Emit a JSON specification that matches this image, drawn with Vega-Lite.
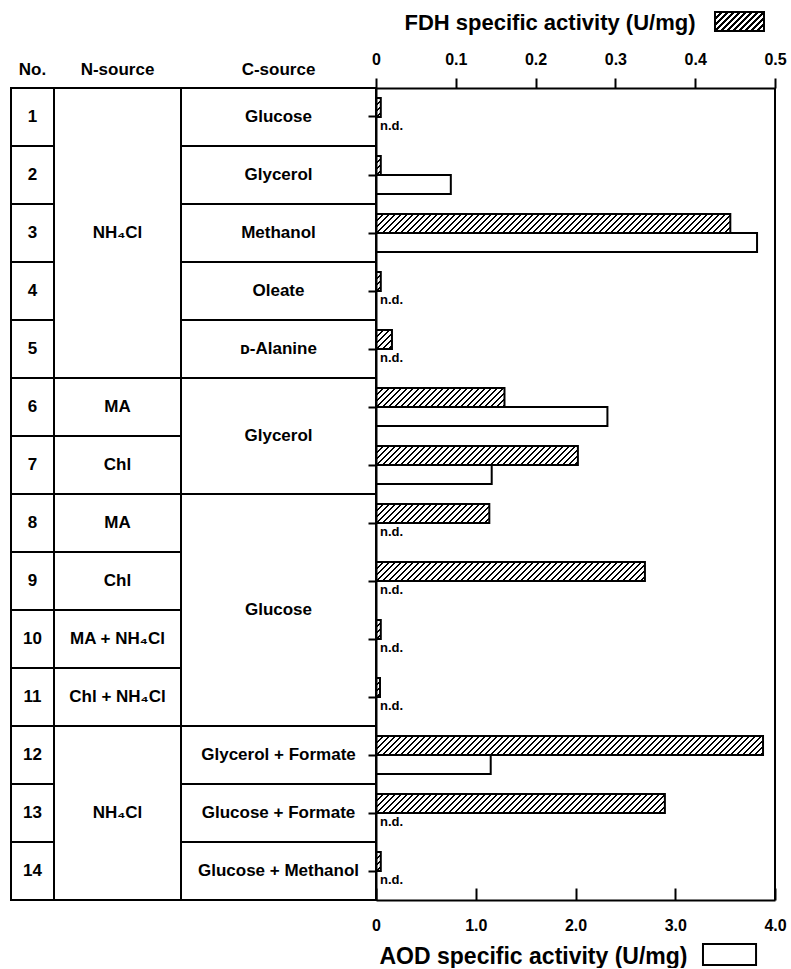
{
  "$schema": "https://vega.github.io/schema/vega-lite/v6.json",
  "background": "white",
  "padding": {"left": 9, "top": 11, "right": 5, "bottom": 0},
  "spacing": 0,
  "bounds": "flush",
  "config": {
    "font": "Liberation Sans",
    "view": {"stroke": "black", "strokeWidth": 2}
  },
  "datasets": {
    "table": [
      {"column": "No", "first": 1, "last": 1, "text": "1"},
      {"column": "No", "first": 2, "last": 2, "text": "2"},
      {"column": "No", "first": 3, "last": 3, "text": "3"},
      {"column": "No", "first": 4, "last": 4, "text": "4"},
      {"column": "No", "first": 5, "last": 5, "text": "5"},
      {"column": "No", "first": 6, "last": 6, "text": "6"},
      {"column": "No", "first": 7, "last": 7, "text": "7"},
      {"column": "No", "first": 8, "last": 8, "text": "8"},
      {"column": "No", "first": 9, "last": 9, "text": "9"},
      {"column": "No", "first": 10, "last": 10, "text": "10"},
      {"column": "No", "first": 11, "last": 11, "text": "11"},
      {"column": "No", "first": 12, "last": 12, "text": "12"},
      {"column": "No", "first": 13, "last": 13, "text": "13"},
      {"column": "No", "first": 14, "last": 14, "text": "14"},
      {"column": "N", "first": 1, "last": 5, "text": "NH₄Cl"},
      {"column": "N", "first": 6, "last": 6, "text": "MA"},
      {"column": "N", "first": 7, "last": 7, "text": "Chl"},
      {"column": "N", "first": 8, "last": 8, "text": "MA"},
      {"column": "N", "first": 9, "last": 9, "text": "Chl"},
      {"column": "N", "first": 10, "last": 10, "text": "MA + NH₄Cl"},
      {"column": "N", "first": 11, "last": 11, "text": "Chl + NH₄Cl"},
      {"column": "N", "first": 12, "last": 14, "text": "NH₄Cl"},
      {"column": "C", "first": 1, "last": 1, "text": "Glucose"},
      {"column": "C", "first": 2, "last": 2, "text": "Glycerol"},
      {"column": "C", "first": 3, "last": 3, "text": "Methanol"},
      {"column": "C", "first": 4, "last": 4, "text": "Oleate"},
      {"column": "C", "first": 5, "last": 5, "text": "ᴅ-Alanine"},
      {"column": "C", "first": 6, "last": 7, "text": "Glycerol"},
      {"column": "C", "first": 8, "last": 11, "text": "Glucose"},
      {"column": "C", "first": 12, "last": 12, "text": "Glycerol + Formate"},
      {"column": "C", "first": 13, "last": 13, "text": "Glucose + Formate"},
      {"column": "C", "first": 14, "last": 14, "text": "Glucose + Methanol"}
    ],
    "activity": [
      {"No": 1, "series": "FDH", "activity": 0.006},
      {"No": 2, "series": "FDH", "activity": 0.006},
      {"No": 3, "series": "FDH", "activity": 0.444},
      {"No": 4, "series": "FDH", "activity": 0.006},
      {"No": 5, "series": "FDH", "activity": 0.020},
      {"No": 6, "series": "FDH", "activity": 0.161},
      {"No": 7, "series": "FDH", "activity": 0.253},
      {"No": 8, "series": "FDH", "activity": 0.142},
      {"No": 9, "series": "FDH", "activity": 0.337},
      {"No": 10, "series": "FDH", "activity": 0.006},
      {"No": 11, "series": "FDH", "activity": 0.005},
      {"No": 12, "series": "FDH", "activity": 0.485},
      {"No": 13, "series": "FDH", "activity": 0.362},
      {"No": 14, "series": "FDH", "activity": 0.006},
      {"No": 1, "series": "AOD", "activity": null},
      {"No": 2, "series": "AOD", "activity": 0.75},
      {"No": 3, "series": "AOD", "activity": 3.82},
      {"No": 4, "series": "AOD", "activity": null},
      {"No": 5, "series": "AOD", "activity": null},
      {"No": 6, "series": "AOD", "activity": 2.32},
      {"No": 7, "series": "AOD", "activity": 1.16},
      {"No": 8, "series": "AOD", "activity": null},
      {"No": 9, "series": "AOD", "activity": null},
      {"No": 10, "series": "AOD", "activity": null},
      {"No": 11, "series": "AOD", "activity": null},
      {"No": 12, "series": "AOD", "activity": 1.15},
      {"No": 13, "series": "AOD", "activity": null},
      {"No": 14, "series": "AOD", "activity": null}
    ]
  },
  "hconcat": [
    {
      "width": 43, "height": 812,
      "title": {"text": "No.", "fontSize": 17, "fontWeight": "bold", "color": "black", "anchor": "middle", "offset": 12, "dy": 16, "baseline": "alphabetic"},
      "data": {"name": "table"},
      "transform": [{"filter": "datum.column === 'No'"}],
      "layer": [
        {
          "transform": [{"filter": "datum.first > 1"}],
          "mark": {"type": "rule", "strokeWidth": 2, "color": "black"},
          "encoding": {"y": {"field": "first", "type": "ordinal", "bandPosition": 0, "scale": {"domain": [1,2,3,4,5,6,7,8,9,10,11,12,13,14], "paddingInner": 0, "paddingOuter": 0}, "axis": null}}
        },
        {
          "transform": [{"fold": ["first", "last"], "as": ["edge", "row"]}, {"aggregate": [{"op": "mean", "field": "row", "as": "mid"}], "groupby": ["text", "first"]}],
          "mark": {"type": "text", "fontSize": 17, "fontWeight": "bold", "color": "black", "baseline": "middle"},
          "encoding": {"y": {"field": "mid", "type": "quantitative", "scale": {"domain": [0.5, 14.5], "reverse": true}, "axis": null}, "text": {"field": "text"}}
        }
      ],
      "resolve": {"scale": {"y": "independent"}}
    },
    {
      "width": 127, "height": 812,
      "title": {"text": "N-source", "fontSize": 17, "fontWeight": "bold", "color": "black", "anchor": "middle", "offset": 12, "dy": 16, "baseline": "alphabetic"},
      "data": {"name": "table"},
      "transform": [{"filter": "datum.column === 'N'"}],
      "layer": [
        {
          "transform": [{"filter": "datum.first > 1"}],
          "mark": {"type": "rule", "strokeWidth": 2, "color": "black"},
          "encoding": {"y": {"field": "first", "type": "ordinal", "bandPosition": 0, "scale": {"domain": [1,2,3,4,5,6,7,8,9,10,11,12,13,14], "paddingInner": 0, "paddingOuter": 0}, "axis": null}}
        },
        {
          "transform": [{"fold": ["first", "last"], "as": ["edge", "row"]}, {"aggregate": [{"op": "mean", "field": "row", "as": "mid"}], "groupby": ["text", "first"]}],
          "mark": {"type": "text", "fontSize": 17, "fontWeight": "bold", "color": "black", "baseline": "middle"},
          "encoding": {"y": {"field": "mid", "type": "quantitative", "scale": {"domain": [0.5, 14.5], "reverse": true}, "axis": null}, "text": {"field": "text"}}
        }
      ],
      "resolve": {"scale": {"y": "independent"}}
    },
    {
      "width": 195, "height": 812,
      "title": {"text": "C-source", "fontSize": 17, "fontWeight": "bold", "color": "black", "anchor": "middle", "offset": 12, "dy": 16, "baseline": "alphabetic"},
      "data": {"name": "table"},
      "transform": [{"filter": "datum.column === 'C'"}],
      "layer": [
        {
          "transform": [{"filter": "datum.first > 1"}],
          "mark": {"type": "rule", "strokeWidth": 2, "color": "black"},
          "encoding": {"y": {"field": "first", "type": "ordinal", "bandPosition": 0, "scale": {"domain": [1,2,3,4,5,6,7,8,9,10,11,12,13,14], "paddingInner": 0, "paddingOuter": 0}, "axis": null}}
        },
        {
          "transform": [{"fold": ["first", "last"], "as": ["edge", "row"]}, {"aggregate": [{"op": "mean", "field": "row", "as": "mid"}], "groupby": ["text", "first"]}],
          "mark": {"type": "text", "fontSize": 17, "fontWeight": "bold", "color": "black", "baseline": "middle"},
          "encoding": {"y": {"field": "mid", "type": "quantitative", "scale": {"domain": [0.5, 14.5], "reverse": true}, "axis": null}, "text": {"field": "text"}}
        }
      ],
      "resolve": {"scale": {"y": "independent"}}
    },
    {
      "width": 399, "height": 812,
      "view": {"stroke": null},
      "layer": [
        {
          "data": {"name": "activity"},
          "transform": [{"filter": "datum.series === 'FDH'"}],
          "encoding": {
            "y": {"field": "No", "type": "ordinal", "scale": {"domain": [1,2,3,4,5,6,7,8,9,10,11,12,13,14], "paddingInner": 0.345, "paddingOuter": 0.1725},
                  "axis": {"orient": "left", "labels": false, "title": null, "tickSize": 8, "tickWidth": 2, "tickColor": "black", "domainColor": "black", "domainWidth": 2, "grid": false, "zindex": 1}},
            "yOffset": {"field": "series", "type": "nominal", "scale": {"domain": ["FDH", "AOD"], "paddingInner": 0, "paddingOuter": 0}},
            "x": {"field": "activity", "type": "quantitative", "stack": null, "scale": {"domain": [0, 0.5]},
                  "axis": {"orient": "top", "values": [0, 0.1, 0.2, 0.3, 0.4, 0.5], "labelExpr": "datum.value === 0 ? '0' : format(datum.value, '.1f')",
                           "labelFontSize": 16, "labelFontWeight": "bold", "labelColor": "black", "labelFlush": false, "labelOverlap": false, "labelPadding": 11,
                           "tickSize": 10, "tickWidth": 2, "tickColor": "black", "domainColor": "black", "domainWidth": 2, "grid": false,
                           "title": "FDH specific activity (U/mg)", "titleFontSize": 22, "titleFontWeight": "bold", "titleColor": "black",
                           "titleAnchor": "start", "titleAlign": "left", "titleX": 28, "titleY": -59, "titleBaseline": "alphabetic", "zindex": 1}}
          },
          "layer": [
            {
              "mark": {"type": "bar", "strokeWidth": 0, "fill": {"gradient": "linear", "x1": 0, "y1": 0, "x2": 1.50036, "y2": 0.071446, "stops": [
{"offset":0.00,"color":"#000"},{"offset":0.004,"color":"#000"},{"offset":0.004,"color":"#fff"},{"offset":0.01,"color":"#fff"},
{"offset":0.01,"color":"#000"},{"offset":0.014,"color":"#000"},{"offset":0.014,"color":"#fff"},{"offset":0.02,"color":"#fff"},
{"offset":0.02,"color":"#000"},{"offset":0.024,"color":"#000"},{"offset":0.024,"color":"#fff"},{"offset":0.03,"color":"#fff"},
{"offset":0.03,"color":"#000"},{"offset":0.034,"color":"#000"},{"offset":0.034,"color":"#fff"},{"offset":0.04,"color":"#fff"},
{"offset":0.04,"color":"#000"},{"offset":0.044,"color":"#000"},{"offset":0.044,"color":"#fff"},{"offset":0.05,"color":"#fff"},
{"offset":0.05,"color":"#000"},{"offset":0.054,"color":"#000"},{"offset":0.054,"color":"#fff"},{"offset":0.06,"color":"#fff"},
{"offset":0.06,"color":"#000"},{"offset":0.064,"color":"#000"},{"offset":0.064,"color":"#fff"},{"offset":0.07,"color":"#fff"},
{"offset":0.07,"color":"#000"},{"offset":0.074,"color":"#000"},{"offset":0.074,"color":"#fff"},{"offset":0.08,"color":"#fff"},
{"offset":0.08,"color":"#000"},{"offset":0.084,"color":"#000"},{"offset":0.084,"color":"#fff"},{"offset":0.09,"color":"#fff"},
{"offset":0.09,"color":"#000"},{"offset":0.094,"color":"#000"},{"offset":0.094,"color":"#fff"},{"offset":0.10,"color":"#fff"},
{"offset":0.10,"color":"#000"},{"offset":0.104,"color":"#000"},{"offset":0.104,"color":"#fff"},{"offset":0.11,"color":"#fff"},
{"offset":0.11,"color":"#000"},{"offset":0.114,"color":"#000"},{"offset":0.114,"color":"#fff"},{"offset":0.12,"color":"#fff"},
{"offset":0.12,"color":"#000"},{"offset":0.124,"color":"#000"},{"offset":0.124,"color":"#fff"},{"offset":0.13,"color":"#fff"},
{"offset":0.13,"color":"#000"},{"offset":0.134,"color":"#000"},{"offset":0.134,"color":"#fff"},{"offset":0.14,"color":"#fff"},
{"offset":0.14,"color":"#000"},{"offset":0.144,"color":"#000"},{"offset":0.144,"color":"#fff"},{"offset":0.15,"color":"#fff"},
{"offset":0.15,"color":"#000"},{"offset":0.154,"color":"#000"},{"offset":0.154,"color":"#fff"},{"offset":0.16,"color":"#fff"},
{"offset":0.16,"color":"#000"},{"offset":0.164,"color":"#000"},{"offset":0.164,"color":"#fff"},{"offset":0.17,"color":"#fff"},
{"offset":0.17,"color":"#000"},{"offset":0.174,"color":"#000"},{"offset":0.174,"color":"#fff"},{"offset":0.18,"color":"#fff"},
{"offset":0.18,"color":"#000"},{"offset":0.184,"color":"#000"},{"offset":0.184,"color":"#fff"},{"offset":0.19,"color":"#fff"},
{"offset":0.19,"color":"#000"},{"offset":0.194,"color":"#000"},{"offset":0.194,"color":"#fff"},{"offset":0.20,"color":"#fff"},
{"offset":0.20,"color":"#000"},{"offset":0.204,"color":"#000"},{"offset":0.204,"color":"#fff"},{"offset":0.21,"color":"#fff"},
{"offset":0.21,"color":"#000"},{"offset":0.214,"color":"#000"},{"offset":0.214,"color":"#fff"},{"offset":0.22,"color":"#fff"},
{"offset":0.22,"color":"#000"},{"offset":0.224,"color":"#000"},{"offset":0.224,"color":"#fff"},{"offset":0.23,"color":"#fff"},
{"offset":0.23,"color":"#000"},{"offset":0.234,"color":"#000"},{"offset":0.234,"color":"#fff"},{"offset":0.24,"color":"#fff"},
{"offset":0.24,"color":"#000"},{"offset":0.244,"color":"#000"},{"offset":0.244,"color":"#fff"},{"offset":0.25,"color":"#fff"},
{"offset":0.25,"color":"#000"},{"offset":0.254,"color":"#000"},{"offset":0.254,"color":"#fff"},{"offset":0.26,"color":"#fff"},
{"offset":0.26,"color":"#000"},{"offset":0.264,"color":"#000"},{"offset":0.264,"color":"#fff"},{"offset":0.27,"color":"#fff"},
{"offset":0.27,"color":"#000"},{"offset":0.274,"color":"#000"},{"offset":0.274,"color":"#fff"},{"offset":0.28,"color":"#fff"},
{"offset":0.28,"color":"#000"},{"offset":0.284,"color":"#000"},{"offset":0.284,"color":"#fff"},{"offset":0.29,"color":"#fff"},
{"offset":0.29,"color":"#000"},{"offset":0.294,"color":"#000"},{"offset":0.294,"color":"#fff"},{"offset":0.30,"color":"#fff"},
{"offset":0.30,"color":"#000"},{"offset":0.304,"color":"#000"},{"offset":0.304,"color":"#fff"},{"offset":0.31,"color":"#fff"},
{"offset":0.31,"color":"#000"},{"offset":0.314,"color":"#000"},{"offset":0.314,"color":"#fff"},{"offset":0.32,"color":"#fff"},
{"offset":0.32,"color":"#000"},{"offset":0.324,"color":"#000"},{"offset":0.324,"color":"#fff"},{"offset":0.33,"color":"#fff"},
{"offset":0.33,"color":"#000"},{"offset":0.334,"color":"#000"},{"offset":0.334,"color":"#fff"},{"offset":0.34,"color":"#fff"},
{"offset":0.34,"color":"#000"},{"offset":0.344,"color":"#000"},{"offset":0.344,"color":"#fff"},{"offset":0.35,"color":"#fff"},
{"offset":0.35,"color":"#000"},{"offset":0.354,"color":"#000"},{"offset":0.354,"color":"#fff"},{"offset":0.36,"color":"#fff"},
{"offset":0.36,"color":"#000"},{"offset":0.364,"color":"#000"},{"offset":0.364,"color":"#fff"},{"offset":0.37,"color":"#fff"},
{"offset":0.37,"color":"#000"},{"offset":0.374,"color":"#000"},{"offset":0.374,"color":"#fff"},{"offset":0.38,"color":"#fff"},
{"offset":0.38,"color":"#000"},{"offset":0.384,"color":"#000"},{"offset":0.384,"color":"#fff"},{"offset":0.39,"color":"#fff"},
{"offset":0.39,"color":"#000"},{"offset":0.394,"color":"#000"},{"offset":0.394,"color":"#fff"},{"offset":0.40,"color":"#fff"},
{"offset":0.40,"color":"#000"},{"offset":0.404,"color":"#000"},{"offset":0.404,"color":"#fff"},{"offset":0.41,"color":"#fff"},
{"offset":0.41,"color":"#000"},{"offset":0.414,"color":"#000"},{"offset":0.414,"color":"#fff"},{"offset":0.42,"color":"#fff"},
{"offset":0.42,"color":"#000"},{"offset":0.424,"color":"#000"},{"offset":0.424,"color":"#fff"},{"offset":0.43,"color":"#fff"},
{"offset":0.43,"color":"#000"},{"offset":0.434,"color":"#000"},{"offset":0.434,"color":"#fff"},{"offset":0.44,"color":"#fff"},
{"offset":0.44,"color":"#000"},{"offset":0.444,"color":"#000"},{"offset":0.444,"color":"#fff"},{"offset":0.45,"color":"#fff"},
{"offset":0.45,"color":"#000"},{"offset":0.454,"color":"#000"},{"offset":0.454,"color":"#fff"},{"offset":0.46,"color":"#fff"},
{"offset":0.46,"color":"#000"},{"offset":0.464,"color":"#000"},{"offset":0.464,"color":"#fff"},{"offset":0.47,"color":"#fff"},
{"offset":0.47,"color":"#000"},{"offset":0.474,"color":"#000"},{"offset":0.474,"color":"#fff"},{"offset":0.48,"color":"#fff"},
{"offset":0.48,"color":"#000"},{"offset":0.484,"color":"#000"},{"offset":0.484,"color":"#fff"},{"offset":0.49,"color":"#fff"},
{"offset":0.49,"color":"#000"},{"offset":0.494,"color":"#000"},{"offset":0.494,"color":"#fff"},{"offset":0.50,"color":"#fff"},
{"offset":0.50,"color":"#000"},{"offset":0.504,"color":"#000"},{"offset":0.504,"color":"#fff"},{"offset":0.51,"color":"#fff"},
{"offset":0.51,"color":"#000"},{"offset":0.514,"color":"#000"},{"offset":0.514,"color":"#fff"},{"offset":0.52,"color":"#fff"},
{"offset":0.52,"color":"#000"},{"offset":0.524,"color":"#000"},{"offset":0.524,"color":"#fff"},{"offset":0.53,"color":"#fff"},
{"offset":0.53,"color":"#000"},{"offset":0.534,"color":"#000"},{"offset":0.534,"color":"#fff"},{"offset":0.54,"color":"#fff"},
{"offset":0.54,"color":"#000"},{"offset":0.544,"color":"#000"},{"offset":0.544,"color":"#fff"},{"offset":0.55,"color":"#fff"},
{"offset":0.55,"color":"#000"},{"offset":0.554,"color":"#000"},{"offset":0.554,"color":"#fff"},{"offset":0.56,"color":"#fff"},
{"offset":0.56,"color":"#000"},{"offset":0.564,"color":"#000"},{"offset":0.564,"color":"#fff"},{"offset":0.57,"color":"#fff"},
{"offset":0.57,"color":"#000"},{"offset":0.574,"color":"#000"},{"offset":0.574,"color":"#fff"},{"offset":0.58,"color":"#fff"},
{"offset":0.58,"color":"#000"},{"offset":0.584,"color":"#000"},{"offset":0.584,"color":"#fff"},{"offset":0.59,"color":"#fff"},
{"offset":0.59,"color":"#000"},{"offset":0.594,"color":"#000"},{"offset":0.594,"color":"#fff"},{"offset":0.60,"color":"#fff"},
{"offset":0.60,"color":"#000"},{"offset":0.604,"color":"#000"},{"offset":0.604,"color":"#fff"},{"offset":0.61,"color":"#fff"},
{"offset":0.61,"color":"#000"},{"offset":0.614,"color":"#000"},{"offset":0.614,"color":"#fff"},{"offset":0.62,"color":"#fff"},
{"offset":0.62,"color":"#000"},{"offset":0.624,"color":"#000"},{"offset":0.624,"color":"#fff"},{"offset":0.63,"color":"#fff"},
{"offset":0.63,"color":"#000"},{"offset":0.634,"color":"#000"},{"offset":0.634,"color":"#fff"},{"offset":0.64,"color":"#fff"},
{"offset":0.64,"color":"#000"},{"offset":0.644,"color":"#000"},{"offset":0.644,"color":"#fff"},{"offset":0.65,"color":"#fff"},
{"offset":0.65,"color":"#000"},{"offset":0.654,"color":"#000"},{"offset":0.654,"color":"#fff"},{"offset":0.66,"color":"#fff"},
{"offset":0.66,"color":"#000"},{"offset":0.664,"color":"#000"},{"offset":0.664,"color":"#fff"},{"offset":0.67,"color":"#fff"},
{"offset":0.67,"color":"#000"},{"offset":0.674,"color":"#000"},{"offset":0.674,"color":"#fff"},{"offset":0.68,"color":"#fff"},
{"offset":0.68,"color":"#000"},{"offset":0.684,"color":"#000"},{"offset":0.684,"color":"#fff"},{"offset":0.69,"color":"#fff"},
{"offset":0.69,"color":"#000"},{"offset":0.694,"color":"#000"},{"offset":0.694,"color":"#fff"},{"offset":0.70,"color":"#fff"}
              ]}},
              "encoding": {"x": {"datum": 0.5, "type": "quantitative"}}
            },
            {
              "mark": {"type": "bar", "fill": "white", "strokeWidth": 0},
              "encoding": {"x2": {"datum": 0.5}}
            },
            {
              "mark": {"type": "bar", "fillOpacity": 0, "stroke": "black", "strokeWidth": 2}
            }
          ]
        },
        {
          "data": {"name": "activity"},
          "transform": [{"filter": "datum.series === 'AOD'"}],
          "encoding": {
            "y": {"field": "No", "type": "ordinal", "scale": {"domain": [1,2,3,4,5,6,7,8,9,10,11,12,13,14], "paddingInner": 0.345, "paddingOuter": 0.1725}, "axis": null},
            "yOffset": {"field": "series", "type": "nominal", "scale": {"domain": ["FDH", "AOD"], "paddingInner": 0, "paddingOuter": 0}}
          },
          "layer": [
            {
              "mark": {"type": "bar", "fill": "white", "stroke": "black", "strokeWidth": 2},
              "encoding": {
                "x": {"field": "activity", "type": "quantitative", "stack": null, "scale": {"domain": [0, 4]},
                      "axis": {"orient": "bottom", "values": [0, 1, 2, 3, 4], "labelExpr": "datum.value === 0 ? '0' : format(datum.value, '.1f')",
                               "labelFontSize": 16, "labelFontWeight": "bold", "labelColor": "black", "labelFlush": false, "labelOverlap": false, "labelPadding": 29,
                               "tickSize": -12, "tickWidth": 2, "tickColor": "black", "domainColor": "black", "domainWidth": 2, "grid": false,
                               "title": "AOD specific activity (U/mg)", "titleFontSize": 23, "titleFontWeight": "bold", "titleColor": "black",
                               "titleAnchor": "start", "titleAlign": "left", "titleX": 3, "titleY": 63, "titleBaseline": "alphabetic", "zindex": 1}}
              }
            },
            {
              "transform": [{"filter": "datum.activity === null"}],
              "mark": {"type": "text", "text": "n.d.", "align": "left", "dx": 4, "baseline": "middle", "fontSize": 13, "fontWeight": "bold", "color": "black"},
              "encoding": {"x": {"datum": 0, "type": "quantitative"}}
            }
          ]
        },
        {
          "data": {"values": [{}]},
          "mark": {"type": "rule", "strokeWidth": 2, "color": "black"},
          "encoding": {"x": {"datum": 0.5, "type": "quantitative", "scale": {"domain": [0, 0.5]}, "axis": null}}
        },
        {
          "data": {"values": [{}]},
          "mark": {"type": "rect", "stroke": "black", "strokeWidth": 2, "fill": {"gradient": "linear", "x1": 0, "y1": 0, "x2": 10.6443, "y2": 4.1274, "stops": [
{"offset":0.00,"color":"#000"},{"offset":0.004,"color":"#000"},{"offset":0.004,"color":"#fff"},{"offset":0.01,"color":"#fff"},
{"offset":0.01,"color":"#000"},{"offset":0.014,"color":"#000"},{"offset":0.014,"color":"#fff"},{"offset":0.02,"color":"#fff"},
{"offset":0.02,"color":"#000"},{"offset":0.024,"color":"#000"},{"offset":0.024,"color":"#fff"},{"offset":0.03,"color":"#fff"},
{"offset":0.03,"color":"#000"},{"offset":0.034,"color":"#000"},{"offset":0.034,"color":"#fff"},{"offset":0.04,"color":"#fff"},
{"offset":0.04,"color":"#000"},{"offset":0.044,"color":"#000"},{"offset":0.044,"color":"#fff"},{"offset":0.05,"color":"#fff"},
{"offset":0.05,"color":"#000"},{"offset":0.054,"color":"#000"},{"offset":0.054,"color":"#fff"},{"offset":0.06,"color":"#fff"},
{"offset":0.06,"color":"#000"},{"offset":0.064,"color":"#000"},{"offset":0.064,"color":"#fff"},{"offset":0.07,"color":"#fff"},
{"offset":0.07,"color":"#000"},{"offset":0.074,"color":"#000"},{"offset":0.074,"color":"#fff"},{"offset":0.08,"color":"#fff"},
{"offset":0.08,"color":"#000"},{"offset":0.084,"color":"#000"},{"offset":0.084,"color":"#fff"},{"offset":0.09,"color":"#fff"},
{"offset":0.09,"color":"#000"},{"offset":0.094,"color":"#000"},{"offset":0.094,"color":"#fff"},{"offset":0.10,"color":"#fff"},
{"offset":0.10,"color":"#000"},{"offset":0.104,"color":"#000"},{"offset":0.104,"color":"#fff"},{"offset":0.11,"color":"#fff"},
{"offset":0.11,"color":"#000"},{"offset":0.114,"color":"#000"},{"offset":0.114,"color":"#fff"},{"offset":0.12,"color":"#fff"}
          ]}},
          "encoding": {
            "x": {"datum": 0.4248, "type": "quantitative", "scale": {"domain": [0, 0.5]}, "axis": null},
            "x2": {"datum": 0.4862},
            "y": {"datum": -1.3103, "type": "quantitative", "scale": {"domain": [0, 14], "reverse": true}, "axis": null},
            "y2": {"datum": -0.9828}
          }
        },
        {
          "data": {"values": [{}]},
          "mark": {"type": "rect", "fill": "white", "stroke": "black", "strokeWidth": 2},
          "encoding": {
            "x": {"datum": 3.278, "type": "quantitative", "scale": {"domain": [0, 4]}, "axis": null},
            "x2": {"datum": 3.81},
            "y": {"datum": 14.759, "type": "quantitative", "scale": {"domain": [0, 14], "reverse": true}, "axis": null},
            "y2": {"datum": 15.121}
          }
        }
      ],
      "resolve": {"scale": {"x": "independent", "y": "independent"}}
    }
  ]
}
